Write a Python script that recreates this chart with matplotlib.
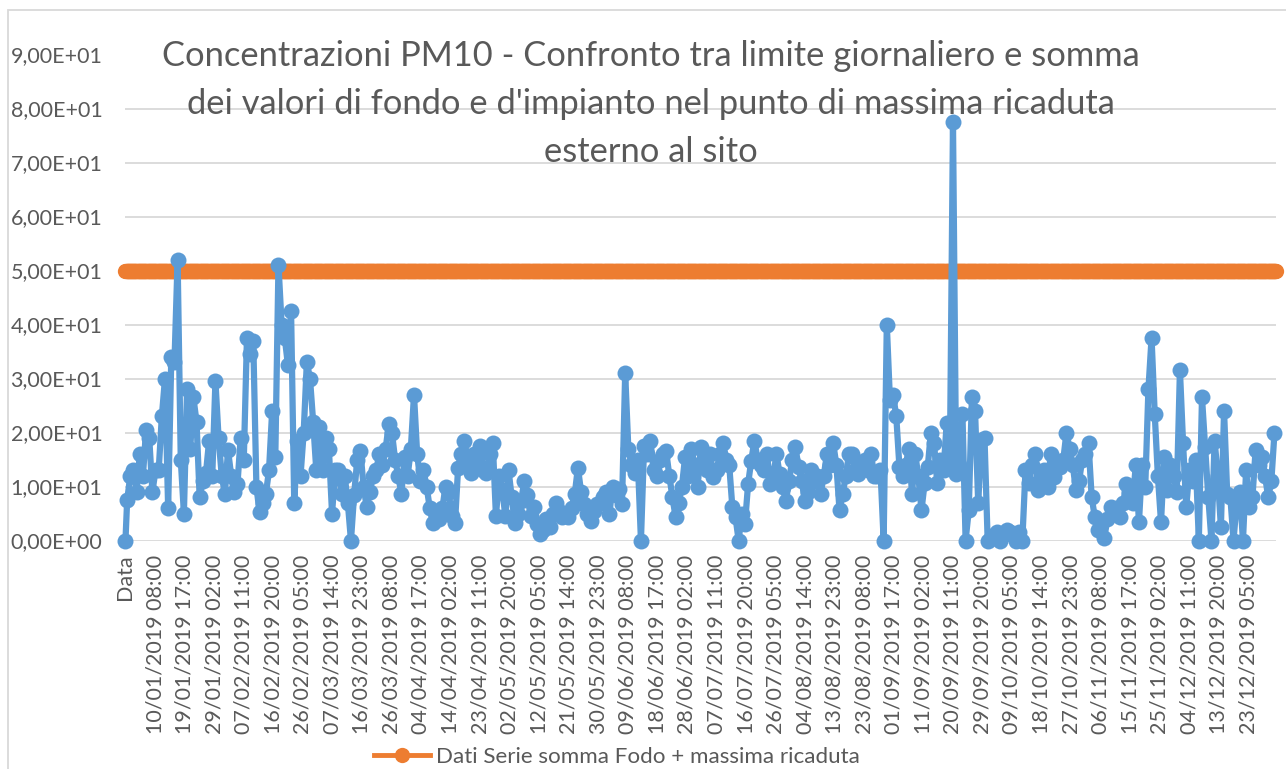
import numpy as np
import matplotlib.pyplot as plt
from matplotlib.patches import Rectangle

# PM10: somma fondo + impianto, un valore per giorno (1 gen - 31 dic 2019)
pm10_giorno = [
    7.5, 12, 13, 9, 16, 12, 20.5, 19, 9, 13,
    13, 23, 30, 6, 34, 33, 52, 15, 5, 28,
    17, 26.5, 22, 8, 11, 12.5, 18.5, 12, 29.5, 19,
    12, 8.6, 16.7, 12, 9, 10.5, 19, 15, 37.5, 34.5,
    37, 10, 5.2, 7, 8.6, 13, 24, 15.5, 51, 40,
    37.5, 32.5, 42.5, 7, 18.5, 12, 20, 33, 30, 22,
    13, 21, 13, 19, 17, 5, 13, 13, 8.6, 12,
    7, 0, 8.5, 15, 16.5, 10, 6.2, 9, 12, 13,
    16, 14, 17, 21.5, 20, 15, 12, 8.6, 15.5, 12,
    17, 27, 16, 11, 13, 10, 6, 3.2, 5, 4,
    6, 10, 9, 4.5, 3.2, 13.5, 16, 18.5, 15, 12.5,
    16, 14, 17.5, 13, 12.5, 16, 18, 4.5, 12, 9.3,
    4.5, 13, 8, 3.2, 5, 7.4, 11, 8.5, 4.5, 6.2,
    3, 1.2, 2, 4, 2.5, 5, 7, 5.5, 4.3, 5,
    4.3, 6, 8.6, 13.5, 9, 6.8, 5, 3.7, 5.5, 6.8,
    7, 8, 9, 5, 10, 8.5, 9.5, 6.8, 31, 17,
    14, 12.5, 15, 0, 17.5, 16, 18.5, 13, 12, 15,
    16, 16.5, 12, 8, 4.3, 7, 10, 15.4, 12, 17,
    14, 10, 17.3, 15, 13, 16, 11.7, 13, 16, 18,
    15, 14, 6.2, 4.3, 0, 5, 3, 10.5, 14.8, 18.5,
    15, 14, 13, 16, 10.5, 12, 16, 12.3, 10, 7.4,
    11, 15, 17.3, 13.6, 11, 7.4, 9, 13, 11, 12,
    8.6, 12, 16, 14, 18, 14, 5.6, 8.6, 12, 16,
    16, 13, 12.3, 14, 15, 13, 16, 12, 12, 13,
    0, 40, 26, 27, 23, 13.7, 12, 14, 17, 8.7,
    16, 12, 5.6, 10.6, 13.7, 20, 18, 10.6, 15, 13,
    21.7, 13.7, 77.5, 12.4, 14, 23.5, 0, 5.6, 26.5, 24,
    6.9, 18.6, 19, 0, 0.5, 1, 1.5, 0, 1, 2,
    1.5, 1, 0, 1.5, 0, 13, 10.6, 14, 16, 9.4,
    12, 13, 10, 16, 11.8, 14, 13.7, 15, 20, 17,
    14, 9.3, 11, 15, 16, 18, 8, 4.3, 2, 3,
    0.5, 4, 6.2, 5, 6, 4.3, 7, 10.5, 9, 7,
    14, 3.4, 14, 10, 28, 37.5, 23.5, 12, 3.4, 15.4,
    9.3, 14, 12, 9, 31.5, 18, 6.2, 13, 11, 15,
    0, 26.5, 17.3, 8, 0, 18.5, 12, 2.5, 24, 8.6,
    8, 0, 7, 9, 0, 13, 6.2, 8, 16.7, 14,
    15.4, 12, 8, 11, 20,
]
limite_giornaliero = 50.0
ore_anno = 8760
passo_etichette = 225

etichette_x = [
    "Data", "10/01/2019 08:00", "19/01/2019 17:00", "29/01/2019 02:00",
    "07/02/2019 11:00", "16/02/2019 20:00", "26/02/2019 05:00", "07/03/2019 14:00",
    "16/03/2019 23:00", "26/03/2019 08:00", "04/04/2019 17:00", "14/04/2019 02:00",
    "23/04/2019 11:00", "02/05/2019 20:00", "12/05/2019 05:00", "21/05/2019 14:00",
    "30/05/2019 23:00", "09/06/2019 08:00", "18/06/2019 17:00", "28/06/2019 02:00",
    "07/07/2019 11:00", "16/07/2019 20:00", "26/07/2019 05:00", "04/08/2019 14:00",
    "13/08/2019 23:00", "23/08/2019 08:00", "01/09/2019 17:00", "11/09/2019 02:00",
    "20/09/2019 11:00", "29/09/2019 20:00", "09/10/2019 05:00", "18/10/2019 14:00",
    "27/10/2019 23:00", "06/11/2019 08:00", "15/11/2019 17:00", "25/11/2019 02:00",
    "04/12/2019 11:00", "13/12/2019 20:00", "23/12/2019 05:00",
]
titolo = ("Concentrazioni PM10 - Confronto tra limite giornaliero e somma\n"
          "dei valori di fondo e d'impianto nel punto di massima ricaduta\n"
          "esterno al sito")
nome_serie = "Dati Serie somma Fodo + massima ricaduta"

BLU = "#5B9BD5"
ARANCIO = "#ED7D31"
GRIGIO = "#595959"
GRIGLIA = "#D9D9D9"

plt.rcParams['font.family'] = ['Lato', 'DejaVu Sans']

W, H = 1286, 769
fig = plt.figure(figsize=(W / 100, H / 100), dpi=100)
ax = fig.add_axes([125.4 / W, 228.5 / H, 1150.6 / W, 486 / H])

# asse a categorie: 0 = intestazione "Data", poi una categoria per ogni ora
x_giorni = 1 + 24 * np.arange(len(pm10_giorno)) + 12
x_blu = np.concatenate([[0], x_giorni])
y_blu = np.concatenate([[0.0], pm10_giorno])
x_lim = np.arange(0, ore_anno + 1, 4)
y_lim = np.full(len(x_lim), limite_giornaliero)

ax.plot(x_lim, y_lim, color=ARANCIO, lw=3.5, marker='o', ms=11, mew=0,
        clip_on=False, zorder=2, label=nome_serie)
ax.plot(x_blu, y_blu, color=BLU, lw=4.5, marker='o', ms=11.5, mew=0,
        clip_on=False, zorder=3, label='_nolegend_')

ax.set_xlim(-0.5, ore_anno + 0.5)
ax.set_ylim(0, 90)

yt = np.arange(0, 91, 10)
ax.set_yticks(yt)
ax.set_yticklabels([f"{v:.2E}".replace('.', ',') for v in yt])
ax.set_xticks(np.arange(len(etichette_x)) * passo_etichette)
ax.set_xticklabels(etichette_x, rotation=90)
ax.tick_params(axis='y', length=0, pad=16.5, labelsize=15.5, labelcolor=GRIGIO)
ax.tick_params(axis='x', length=0, pad=10, labelsize=15.5, labelcolor=GRIGIO)

for s in ax.spines.values():
    s.set_visible(False)
ax.grid(axis='y', color=GRIGLIA, lw=1.3)
ax.set_axisbelow(True)

fig.text(651 / W, 1 - 104 / H, titolo, ha='center', va='center',
         multialignment='center', fontsize=24.8, color=GRIGIO, linespacing=1.62)

fig.legend(loc='center', bbox_to_anchor=(617 / W, 1 - 757 / H), frameon=False,
           fontsize=16.1, labelcolor=GRIGIO, handlelength=2.5, handletextpad=0.3,
           numpoints=1, borderaxespad=0, borderpad=0)

fig.patches.append(Rectangle((8 / W, -0.1), 1.2, (H - 10) / H + 0.1,
                             transform=fig.transFigure, fill=False,
                             ec=GRIGLIA, lw=1.3))

fig.savefig("out.png", dpi=100)
